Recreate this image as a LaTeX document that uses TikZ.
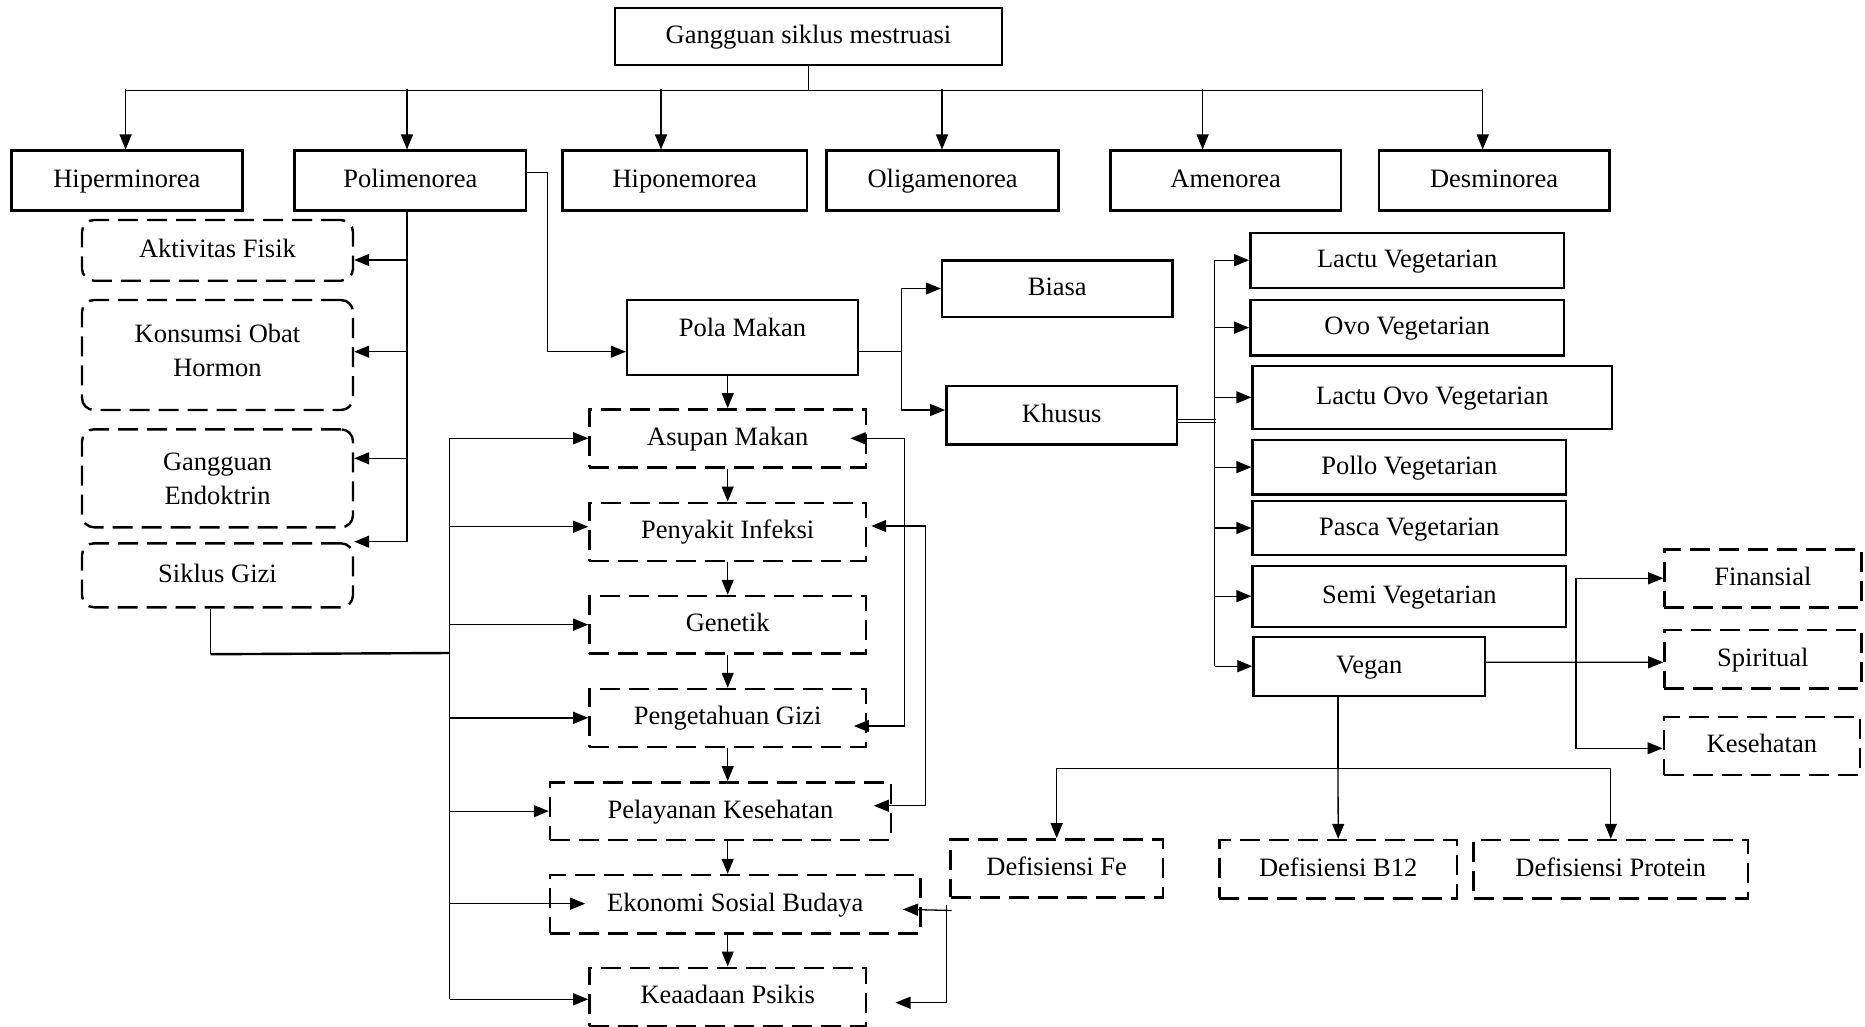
\documentclass[tikz,border=0pt]{standalone}
\usepackage{fontspec}
\setmainfont{Liberation Serif}
\usetikzlibrary{arrows.meta,calc}
\begin{document}
\begin{tikzpicture}[x=1pt,y=-1pt,
  every node/.style={font=\fontsize{26.5}{34}\selectfont, inner sep=0pt, text height=18pt, text depth=4pt},
  sbox/.style={draw, line width=2.4pt},
  dbox/.style={draw, line width=2.4pt, dash pattern=on 20pt off 9pt},
  rbox/.style={dbox, rounded corners=12pt},
  conn/.style={line width=1.3pt},
  arr/.style={conn, -{Triangle[length=15pt,width=12pt]}},
  arrb/.style={conn, {Triangle[length=15pt,width=12pt]}-{Triangle[length=15pt,width=12pt]}},
  sz/.style n args={2}{minimum width=#1pt, minimum height=#2pt}]
\useasboundingbox[fill=white] (0,0) rectangle (1865,1027);

% top
\node[sbox, sz={387}{57}] (top) at (808.5,36.5) {Gangguan siklus mestruasi};
% row 1
\node[sbox, sz={230.8}{60}] (hiper) at (126.9,180.7) {Hiperminorea};
\node[sbox, sz={231.5}{60}] (poli) at (410.35,180.7) {Polimenorea};
\node[sbox, sz={244.3}{60}] (hipo) at (684.65,180.7) {Hiponemorea};
\node[sbox, sz={232}{60}] (oligo) at (942.6,180.7) {Oligamenorea};
\node[sbox, sz={230.5}{60}] (ameno) at (1225.65,180.7) {Amenorea};
\node[sbox, sz={230.5}{60}] (desmi) at (1494.05,180.7) {Desminorea};

% left column
\node[rbox, sz={271}{60.7}] (aktiv) at (217.5,250.35) {Aktivitas Fisik};
\node[rbox, sz={271}{110}, text height=46pt, text depth=4pt] (konsumsi) at (217.5,355) {\begin{tabular}[b]{@{}c@{}}Konsumsi Obat\\Hormon\end{tabular}};
\node[rbox, sz={271}{98}, text height=55.4pt, text depth=4pt] (endok) at (217.5,478.3) {\begin{tabular}[b]{@{}c@{}}Gangguan\\Endoktrin\end{tabular}};
\node[rbox, sz={271}{64}] (siklus) at (217.5,575.3) {Siklus Gizi};

% center column
\node[sbox, sz={231}{75}, text depth=21pt] (pola) at (742.5,337.5) {Pola Makan};
\node[dbox, sz={276.6}{58}] (asupan) at (727.7,438.3) {Asupan Makan};
\node[dbox, sz={276.6}{58}] (penyakit) at (727.7,531.7) {Penyakit Infeksi};
\node[dbox, sz={276.6}{57.3}] (genetik) at (727.7,624.65) {Genetik};
\node[dbox, sz={276.6}{57.7}] (pengetahuan) at (727.7,717.85) {Pengetahuan Gizi};
\node[dbox, sz={341}{57.7}] (pelayanan) at (720.5,811.15) {Pelayanan Kesehatan};
\node[dbox, sz={370.5}{58.3}] (ekonomi) at (735.25,904.15) {Ekonomi Sosial Budaya};
\node[dbox, sz={276.6}{58.3}] (keaadaan) at (727.7,996.85) {Keaadaan Psikis};

% biasa / khusus
\node[sbox, sz={230.6}{56.4}] (biasa) at (1057.3,288.5) {Biasa};
\node[sbox, sz={230.7}{58.3}] (khusus) at (1061.65,415.15) {Khusus};

% vegetarian list
\node[sbox, sz={313.7}{55}] (lactu) at (1407.15,260.2) {Lactu Vegetarian};
\node[sbox, sz={313.7}{55.3}] (ovo) at (1407.15,327.65) {Ovo Vegetarian};
\node[sbox, sz={359.4}{63.3}] (lactuovo) at (1432.3,397.35) {Lactu Ovo Vegetarian};
\node[sbox, sz={313.3}{54.3}] (pollo) at (1409.25,467.15) {Pollo Vegetarian};
\node[sbox, sz={313.4}{54}] (pasca) at (1409.3,528) {Pasca Vegetarian};
\node[sbox, sz={313.4}{61}] (semi) at (1409.3,596.2) {Semi Vegetarian};
\node[sbox, sz={231.5}{59}] (vegan) at (1369.25,666.2) {Vegan};

% right dashed
\node[dbox, sz={196.9}{58}] (finansial) at (1762.85,578.3) {Finansial};
\node[dbox, sz={196.9}{58.3}] (spiritual) at (1762.85,659.15) {Spiritual};
\node[dbox, sz={196.3}{58.3}] (kesehatan) at (1761.85,745.85) {Kesehatan};

% defisiensi
\node[dbox, sz={212.3}{58}] (defe) at (1056.65,868.3) {Defisiensi Fe};
\node[dbox, sz={237.6}{58.3}] (b12) at (1338.2,869.15) {Defisiensi B12};
\node[dbox, sz={274.5}{58.3}] (protein) at (1610.75,869.15) {Defisiensi Protein};

% ---------- connectors ----------
% top bus
\draw[conn] (top.south) -- (top.south |- 0,90.7);
\draw[conn] (125.6,90.7) -- (1482.7,90.7);
\draw[arr] ($(hiper.north)+(-1.3,-60)$) -- ++(0,60);
\draw[arr] ($(poli.north)+(-3.35,-60)$) -- ++(0,60);
\draw[arr] ($(hipo.north)+(-23.65,-60)$) -- ++(0,60);
\draw[arr] ($(oligo.north)+(-0.6,-60)$) -- ++(0,60);
\draw[arr] ($(ameno.north)+(-23.05,-60)$) -- ++(0,60);
\draw[arr] ($(desmi.north)+(-11.35,-60)$) -- ++(0,60);

% polimenorea trunk to left column
\draw[conn] (poli.south -| 407,0) -- (407,541.7);
\draw[arr] (407,260) -- (aktiv.east |- 0,260);
\draw[arr] (407,351.7) -- (konsumsi.east |- 0,351.7);
\draw[arr] (407,458.3) -- (endok.east |- 0,458.3);
\draw[arr] (407,541.7) -- (siklus.north east |- 0,541.7);

% polimenorea to pola makan
\draw[arr] ($(poli.east)+(0,-8.4)$) -| ($(pola.west)+(-78,14.2)$) -- ($(pola.west)+(0,14.2)$);

% pola makan to biasa / khusus
\draw[conn] ($(pola.east)+(0,14.2)$) -- ($(pola.east)+(42.3,14.2)$);
\draw[arr] ($(pola.east)+(42.3,14.2)$) |- (biasa.west);
\draw[arr] ($(pola.east)+(42.3,14.2)$) |- ($(khusus.west)+(0,-5.15)$);

% center chain
\draw[arr] (pola.south -| asupan.north) -- (asupan.north);
\draw[arr] (asupan.south) -- (penyakit.north);
\draw[arr] (penyakit.south) -- (genetik.north);
\draw[arr] (genetik.south) -- (pengetahuan.north);
\draw[arr] (pengetahuan.south) -- (pelayanan.north -| pengetahuan.south);
\draw[arr] (pelayanan.south -| asupan.south) -- (ekonomi.north -| asupan.south);
\draw[arr] (ekonomi.south -| asupan.south) -- (keaadaan.north);

% siklus gizi to left bus
\draw[conn] ($(siklus.south)+(-6.8,0)$) -- ($(siklus.south)+(-6.8,45.7)$);
\draw[line width=2.4pt] ($(siklus.south)+(-6.8,45.7)$) -- (449.5,653);
\draw[conn] (449.5,438.3) -- (449.5,999.3);
\draw[arr] (asupan.west -| 449.5,0) -- (asupan.west);
\draw[arr] (449.5,526.7) -- ($(penyakit.west)+(0,-5)$);
\draw[arr] (genetik.west -| 449.5,0) -- (genetik.west);
\draw[arr] (pengetahuan.west -| 449.5,0) -- (pengetahuan.west);
\draw[arr] (pelayanan.west -| 449.5,0) -- (pelayanan.west);
\draw[arr] (449.5,903.7) -- ($(ekonomi.west)+(36.4,-0.45)$);
\draw[arr] (449.5,999.3) -- ($(keaadaan.west)+(0,2.45)$);

% feedback lines on the right of the center column
\draw[arrb] ($(asupan.east)+(-16.7,0)$) -| ($(pengetahuan.east)+(37.3,8.15)$) -- ($(pengetahuan.east)+(-13.3,8.15)$);
\draw[arrb] ($(penyakit.east)+(4,-5.7)$) -| ($(pelayanan.east)+(33.3,-5.45)$) -- ($(pelayanan.east)+(-18.4,-5.45)$);
\draw[arr] ($(defe.south west)+(2.2,12)$) -- ($(ekonomi.east)+(-18.8,5.15)$);
\draw[arr] ($(defe.south west)+(-2.8,6)$) |- ($(keaadaan.east)+(28.3,5.85)$);

% khusus to vegetarian list
\draw[conn, double, double distance=2pt] ($(khusus.east)+(0,5.85)$) -- ($(khusus.east)+(37.8,5.85)$);
\draw[conn] (lactu.west -| 1214.8,0) -- (vegan.west -| 1214.8,0);
\draw[arr] (lactu.west -| 1214.8,0) -- (lactu.west);
\draw[arr] (ovo.west -| 1214.8,0) -- (ovo.west);
\draw[arr] (lactuovo.west -| 1214.8,0) -- (lactuovo.west);
\draw[arr] (pollo.west -| 1214.8,0) -- (pollo.west);
\draw[arr] (pasca.west -| 1214.8,0) -- (pasca.west);
\draw[arr] (semi.west -| 1214.8,0) -- (semi.west);
\draw[arr] (vegan.west -| 1214.8,0) -- (vegan.west);

% vegan to right dashed boxes
\draw[arr] ($(vegan.east)+(0,-3.9)$) -- ($(spiritual.west)+(0,3.15)$);
\draw[arr] ($(vegan.east)+(89.8,-3.9)$) |- (finansial.west);
\draw[arr] ($(vegan.east)+(89.8,-3.9)$) |- ($(kesehatan.west)+(0,2.45)$);

% vegan to defisiensi
\coordinate (vj) at ($(vegan.south)+(-31.25,71.6)$);
\draw[conn] (vegan.south -| vj) -- (vj);
\draw[arr] (vj) -| (defe.north);
\draw[arr] (vj) -- (b12.north);
\draw[arr] (vj) -| (protein.north);
\end{tikzpicture}
\end{document}
